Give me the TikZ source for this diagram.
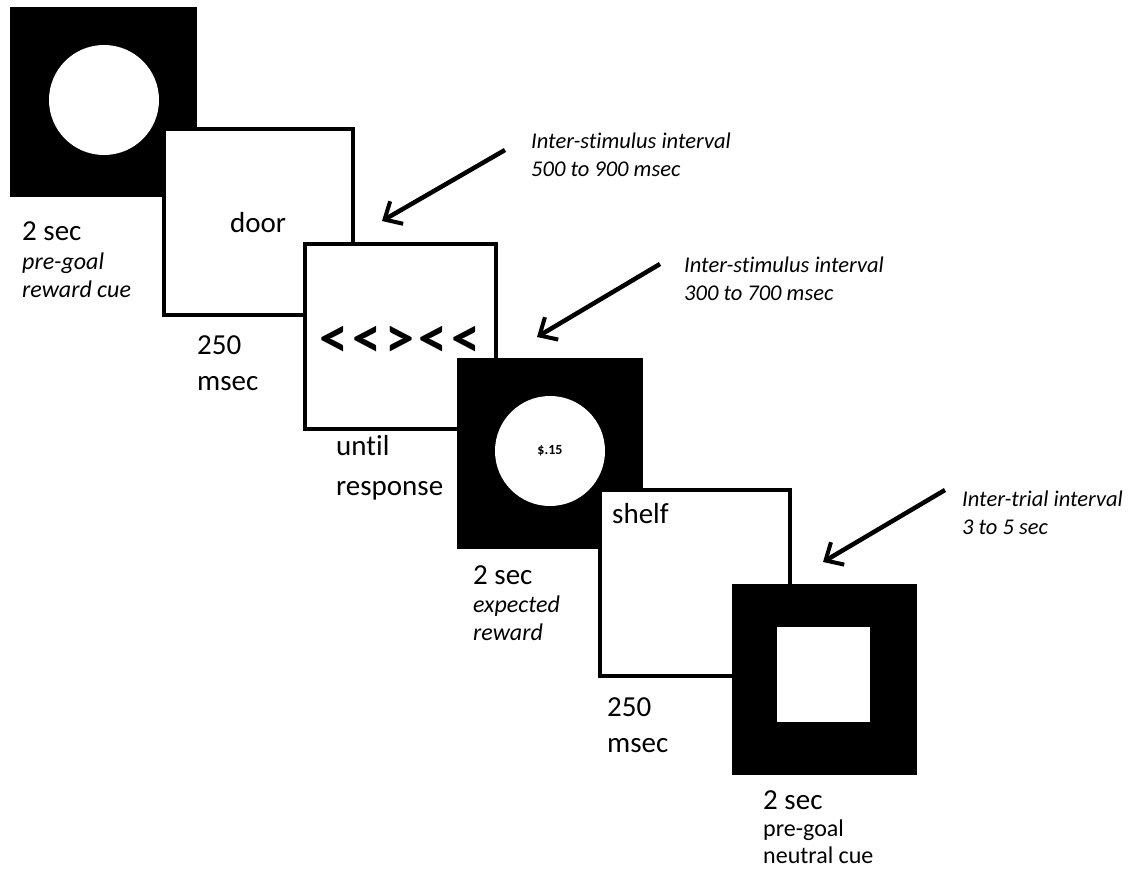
\documentclass[tikz,border=0pt]{standalone}
\usepackage{fontspec}
\setmainfont{Carlito}[Ligatures={NoCommon}]
\usetikzlibrary{arrows.meta}
\tikzset{
  blackframe/.style={fill=black, draw=none},
  whiteframe/.style={fill=white, draw=black, line width=4.5pt},
  cue/.style={fill=white, draw=none},
  lbl/.style={anchor=base west, inner sep=0pt, font=\fontsize{29}{33}\selectfont},
  ilbl/.style={anchor=base west, inner sep=0pt, font=\fontsize{24}{28}\selectfont\itshape},
  slbl/.style={anchor=base west, inner sep=0pt, font=\fontsize{24}{28}\selectfont},
  intlbl/.style={anchor=base west, inner sep=0pt, font=\fontsize{22.5}{27}\selectfont\itshape},
  isi/.style={-{Straight Barb[length=14pt,width=26pt,line width=4pt]}, line width=4.5pt},
}
\newcommand{\chev}[1]{\makebox[33pt]{#1}}
\begin{document}
\begin{tikzpicture}[x=1pt,y=-1pt]
\useasboundingbox[fill=white] (0,0) rectangle (1139,872);
% frame 1
\fill[blackframe] (10,7) rectangle (197,197);
\fill[cue] (104,100) circle[radius=55pt];
% frame 2
\draw[whiteframe] (164,129) rectangle (353,315);
% frame 3
\draw[whiteframe] (305,244) rectangle (496,429);
% frame 4
\fill[blackframe] (457,358) rectangle (643,549);
\fill[cue] (550,451) circle[radius=55pt];
% frame 5
\draw[whiteframe] (600,490) rectangle (790,676);
% frame 6
\fill[blackframe] (732,584) rectangle (917,775);
\fill[cue] (777,627) rectangle (870,722);

% texts frame 1
\node[lbl] (t1a) at (22,240) {2 sec};
\node[ilbl] (t1b) at (22,269) {pre-goal};
\node[ilbl] (t1c) at (22,297) {reward cue};
% frame 2
\node[anchor=base, inner sep=0pt, font=\fontsize{29}{33}\selectfont] (door) at (258,232) {door};
\node[lbl] (t2a) at (197,354) {250};
\node[lbl] (t2b) at (197,390) {msec};
% frame 3
\node[inner sep=0pt, font=\fontsize{58}{62}\selectfont\bfseries] (flank) at (400,342) {\chev{<}\chev{<}\chev{>}\chev{<}\chev{<}};
\node[lbl] (t3a) at (336,455) {until};
\node[lbl] (t3b) at (336,495) {response};
% frame 4
\node[inner sep=0pt, font=\fontsize{14}{16}\selectfont\bfseries] (amt) at (550,451) {\$.15};
\node[lbl] (t4a) at (473,584) {2 sec};
\node[ilbl] (t4b) at (473,612) {expected};
\node[ilbl] (t4c) at (473,640) {reward};
% frame 5
\node[lbl] (shelf) at (612,523) {shelf};
\node[lbl] (t5a) at (607,716) {250};
\node[lbl] (t5b) at (607,752) {msec};
% frame 6
\node[lbl] (t6a) at (763,809) {2 sec};
\node[slbl] (t6b) at (763,836) {pre-goal};
\node[slbl] (t6c) at (763,863) {neutral cue};

% interval labels
\node[intlbl] (i1a) at (531,148) {Inter-stimulus interval};
\node[intlbl] (i1b) at (531,176) {500 to 900 msec};
\node[intlbl] (i2a) at (684,272) {Inter-stimulus interval};
\node[intlbl] (i2b) at (684,300) {300 to 700 msec};
\node[intlbl] (i3a) at (962,506) {Inter-trial interval};
\node[intlbl] (i3b) at (962,534) {3 to 5 sec};

% arrows
\coordinate (a1s) at (505,150); \coordinate (a1e) at (382,221);
\coordinate (a2s) at (660,264); \coordinate (a2e) at (537,337);
\coordinate (a3s) at (945,490); \coordinate (a3e) at (823,562);
\draw[isi] (a1s) -- (a1e);
\draw[isi] (a2s) -- (a2e);
\draw[isi] (a3s) -- (a3e);
\end{tikzpicture}
\end{document}
